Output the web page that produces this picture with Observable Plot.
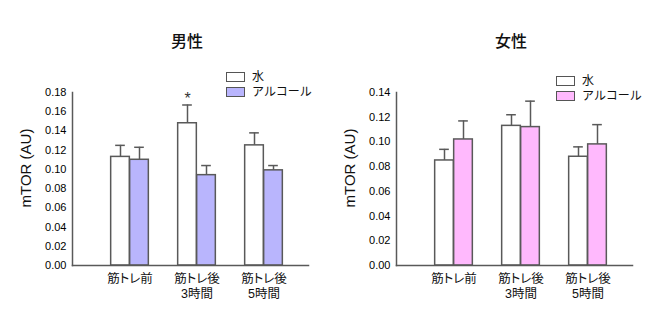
<!DOCTYPE html>
<html>
<head>
<meta charset="utf-8">
<script src="https://cdn.jsdelivr.net/npm/d3@7"></script>
<script src="https://cdn.jsdelivr.net/npm/@observablehq/plot@0.6"></script>
<style>
  body { margin: 0; background: #fff; }
  #root { position: relative; width: 664px; height: 327px; overflow: hidden;
          font-family: "Liberation Sans", Arial, "Noto Sans CJK JP", sans-serif; color: #111; }
  .panel { position: absolute; top: 0; width: 332px; height: 327px; }
  .panel svg { position: absolute; left: 0; top: 0; }
  .xlab text { font-feature-settings: "palt"; }
  .title { position: absolute; top: 30px; width: 120px; margin-left: -60px; text-align: center;
           font-family: "Noto Sans CJK JP", sans-serif; font-size: 16px; font-weight: 500; line-height: 20px; color: #111; }
  .legend { position: absolute; font-size: 12px; line-height: 14.5px; font-family: "Liberation Sans", Arial, "Noto Sans CJK JP", sans-serif; }
  .legend .row { display: flex; align-items: center; height: 14.5px; }
  .legend .sw { width: 17px; height: 8px; border: 1.3px solid #555; margin-right: 7px; }
</style>
</head>
<body>
<div id="root"></div>
<script>
// ---- data ----
const groups = ["筋トレ前", "筋トレ後\n3時間", "筋トレ後\n5時間"];
const series = ["水", "アルコール"];

const maleTitle = "男性";
const maleWater = [0.113, 0.148, 0.125];
const maleWaterSE = [0.012, 0.019, 0.013];
const maleAlcohol = [0.110, 0.094, 0.099];
const maleAlcoholSE = [0.013, 0.010, 0.005];
const maleSig = ["", "*", ""];
const maleTicks = [0, 0.02, 0.04, 0.06, 0.08, 0.10, 0.12, 0.14, 0.16, 0.18];

const femaleTitle = "女性";
const femaleWater = [0.085, 0.113, 0.088];
const femaleWaterSE = [0.009, 0.009, 0.008];
const femaleAlcohol = [0.102, 0.112, 0.098];
const femaleAlcoholSE = [0.015, 0.021, 0.016];
const femaleSig = ["", "", ""];
const femaleTicks = [0, 0.02, 0.04, 0.06, 0.08, 0.10, 0.12, 0.14];

const yLabel = "mTOR (AU)";

// ---- drawing ----
const STROKE = "#595959";
const BAR_W = 19;
const XFONT = '"Liberation Sans", Arial, "Noto Sans CJK JP", sans-serif';

function panel({left, marginLeft, marginRight, title, water, waterSE, alcohol, alcoholSE, sig, ticks, alcColor, legendPos}) {
  const width = 332, height = 327, marginTop = 92, marginBottom = 62;
  const insetL = 23, insetR = 11;
  const frameW = width - marginLeft - marginRight - insetL - insetR;
  const bw = frameW / groups.length;
  const rows = [];
  groups.forEach((g, i) => {
    rows.push({g, s: series[0], v: water[i], e: water[i] + waterSE[i], sig: sig[i]});
    rows.push({g, s: series[1], v: alcohol[i], e: alcohol[i] + alcoholSE[i], sig: ""});
  });
  const wRows = rows.filter(d => d.s === series[0]);
  const aRows = rows.filter(d => d.s === series[1]);
  const fills = ["#ffffff", alcColor];
  const half = bw / 2;

  const plot = Plot.plot({
    width, height, marginTop, marginBottom, marginLeft, marginRight,
    style: {fontFamily: '"Liberation Sans", Arial, "Noto Sans CJK JP", sans-serif', background: "transparent"},
    x: {domain: groups, padding: 0, insetLeft: insetL, insetRight: insetR},
    y: {domain: [0, ticks[ticks.length - 1]]},
    marks: [
      // error bars (drawn under the bars)
      Plot.ruleX(wRows, {x: "g", y1: "v", y2: "e", dx: -BAR_W / 2, stroke: STROKE, strokeWidth: 1.5}),
      Plot.ruleX(aRows, {x: "g", y1: "v", y2: "e", dx: BAR_W / 2, stroke: STROKE, strokeWidth: 1.5}),
      Plot.tickY(wRows, {x: "g", y: "e", insetLeft: half - BAR_W / 2 - 5, insetRight: half + BAR_W / 2 - 5, stroke: STROKE, strokeWidth: 1.5}),
      Plot.tickY(aRows, {x: "g", y: "e", insetLeft: half + BAR_W / 2 - 5, insetRight: half - BAR_W / 2 - 5, stroke: STROKE, strokeWidth: 1.5}),
      // bars
      Plot.barY(wRows, {x: "g", y: "v", fill: fills[0], stroke: STROKE, strokeWidth: 1.5, insetLeft: half - BAR_W, insetRight: half}),
      Plot.barY(aRows, {x: "g", y: "v", fill: fills[1], stroke: STROKE, strokeWidth: 1.5, insetLeft: half, insetRight: half - BAR_W}),
      // significance
      Plot.text(wRows.filter(d => d.sig), {x: "g", y: "e", text: "sig", dx: -BAR_W / 2, dy: -6, fontSize: 16, fill: "#333"}),
      // axes
      Plot.axisY({ticks, tickSize: 0, tickPadding: 6, tickFormat: d3.format(".2f"), fontSize: 11, fill: "#000", label: null}),
      Plot.axisX({tickSize: 0, tickPadding: 9, fontSize: 12.5, fill: "#111", label: null, fontFamily: XFONT,
                  className: "xlab", tickFormat: d => d.split("\n")[0]}),
      Plot.axisX({tickSize: 0, tickPadding: 24, fontSize: 12.5, fill: "#111", label: null, fontFamily: XFONT,
                  className: "xlab", tickFormat: d => d.split("\n")[1] || ""}),
      Plot.text([yLabel], {frameAnchor: "left", textAnchor: "middle", rotate: -90, dx: -46, dy: -11, fontSize: 15, fill: "#111"}),
      Plot.frame({anchor: "left", stroke: STROKE, strokeWidth: 1.5}),
      Plot.frame({anchor: "bottom", stroke: STROKE, strokeWidth: 1.5})
    ]
  });

  const div = document.createElement("div");
  div.className = "panel";
  div.style.left = left + "px";
  div.appendChild(plot);
  const t = document.createElement("div");
  t.className = "title";
  t.style.left = legendPos.titleX + "px";
  t.textContent = title;
  div.appendChild(t);
  const lg = document.createElement("div");
  lg.className = "legend";
  lg.style.left = legendPos.x + "px";
  lg.style.top = legendPos.y + "px";
  series.forEach((s, i) => {
    const r = document.createElement("div");
    r.className = "row";
    const sw = document.createElement("span");
    sw.className = "sw";
    sw.style.background = fills[i];
    r.appendChild(sw);
    const tx = document.createElement("span");
    tx.textContent = s;
    r.appendChild(tx);
    lg.appendChild(r);
  });
  div.appendChild(lg);
  return div;
}

const root = document.getElementById("root");
root.appendChild(panel({
  left: 0, marginLeft: 72, marginRight: 24, title: maleTitle,
  water: maleWater, waterSE: maleWaterSE, alcohol: maleAlcohol, alcoholSE: maleAlcoholSE,
  sig: maleSig, ticks: maleTicks, alcColor: "#b9b5fd",
  legendPos: {titleX: 187, x: 226, y: 70}
}));
root.appendChild(panel({
  left: 332, marginLeft: 64, marginRight: 32, title: femaleTitle,
  water: femaleWater, waterSE: femaleWaterSE, alcohol: femaleAlcohol, alcoholSE: femaleAlcoholSE,
  sig: femaleSig, ticks: femaleTicks, alcColor: "#ffb9fd",
  legendPos: {titleX: 179, x: 224, y: 74}
}));
</script>
</body>
</html>
